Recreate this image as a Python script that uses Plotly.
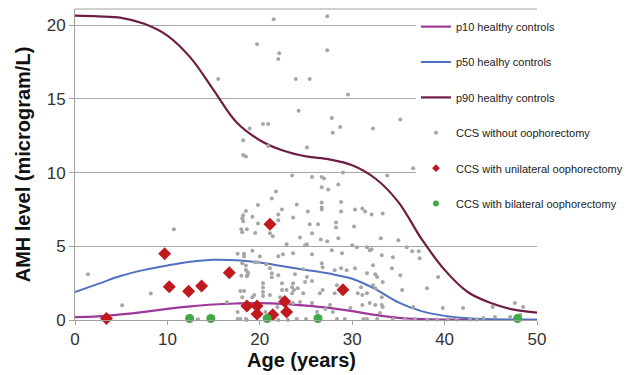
import plotly.graph_objects as go

# ---- percentile curves of healthy controls ----
curve_age = [0, 2.5, 5, 7.5, 10, 12.5, 15, 17.5, 20, 22.5, 25, 27.5, 30, 32.5, 35, 37.5, 40, 42.5, 45, 47.5, 50]
p90 = [20.65, 20.6, 20.5, 20.1, 19.3, 17.8, 15.6, 13.4, 12.2, 11.5, 11.1, 10.9, 10.5, 9.6, 8.0, 5.5, 3.4, 1.9, 1.15, 0.7, 0.5]
p50 = [1.9, 2.45, 3.0, 3.4, 3.7, 3.95, 4.08, 4.05, 3.9, 3.65, 3.4, 3.15, 2.8, 2.1, 1.2, 0.6, 0.28, 0.12, 0.05, 0.02, 0.01]
p10 = [0.2, 0.25, 0.38, 0.55, 0.75, 0.92, 1.05, 1.12, 1.15, 1.1, 0.98, 0.82, 0.6, 0.35, 0.15, 0.06, 0.03, 0.02, 0.01, 0.01, 0.01]

# ---- CCS without oophorectomy ----
none_age = [1.4, 5.1, 8.2, 10.7, 13.3,
            18.2, 18.5, 19.8, 18.5, 18.2, 19.2, 18.1, 19.8, 18.0, 18.6, 19.5, 17.6, 18.3, 19.2, 18.3, 20.0,
            18.1, 18.5, 18.5, 18.0, 18.7, 20.35, 20.35, 20.35, 17.9, 18.3, 18.1, 16.45, 18.2, 17.6, 17.9, 18.5,
            21.5, 27.3, 19.7, 22.1, 22.0, 27.3, 15.5, 23.9, 25.4, 29.55, 24.2, 27.8, 28.7, 27.9, 32.25, 35.2,
            20.35, 20.9, 18.2, 20.9, 25.1, 18.9, 36.6,
            23.5, 25.65, 26.7, 26.95, 29.0, 33.8, 28.5, 26.7, 27.4, 28.8, 26.7, 26.7, 26.7, 24.0, 25.2, 28.8,
            30.3, 31.1, 31.4, 32.1, 33.3, 23.6, 28.25, 25.4, 26.3, 28.25, 30.2, 25.65, 24.35, 26.6, 27.3, 28.5,
            33.1, 25.1,
            21.75, 21.3, 22.4, 18.2, 22.0, 22.0, 18.1, 21.1, 21.4, 22.9,
            23.6, 19.5, 19.8, 20.7, 22.0, 22.5, 18.7, 18.6, 21.1, 21.3, 22.0, 21.3, 22.4, 22.4, 22.9, 23.5,
            19.4, 19.2, 20.35, 21.1, 22.2, 23.05, 21.9, 17.6, 19.8, 20.6, 23.05, 18.6, 22.0, 23.05,
            24.9, 30.0, 27.8, 28.9, 31.9, 33.2, 25.65, 26.7, 26.8, 24.7, 28.8, 30.3, 31.6, 32.5, 23.8, 25.1,
            24.9, 25.65, 23.6, 24.1, 23.7, 23.5, 24.7, 26.5, 26.8, 28.35, 30.95, 32.25, 33.3, 28.9, 30.6, 31.6,
            23.6, 24.35, 25.65, 27.6, 27.1, 31.9, 33.2, 26.2, 27.9, 33.0, 24.0, 25.0, 28.35, 29.2, 31.2, 32.7,
            35.0, 35.9, 37.2, 36.5, 30.5, 31.6, 32.1, 34.4, 37.3, 32.25, 34.3, 35.2, 32.7, 29.4, 28.1, 39.3,
            38.1, 32.5, 35.4, 28.1, 31.1, 33.2, 31.1, 32.5, 33.3, 29.8, 36.6, 39.8, 42.0, 45.2, 47.6, 48.5,
            48.2, 47.1, 45.45, 44.2, 43.5, 42.75, 41.3, 40.3, 39.2, 38.1, 36.8, 35.7, 34.4, 31.6]
none_amh = [3.1, 1.0, 1.8, 6.15, 0.05,
            11.2, 11.1, 7.8, 7.4, 7.1, 7.0, 6.9, 6.55, 6.15, 6.15, 5.9, 4.5, 4.5, 4.7, 4.3, 4.3,
            3.85, 3.7, 3.4, 3.0, 3.1, 2.5, 2.2, 1.9, 1.96, 1.96, 1.55, 1.2, 1.0, 0.07, 0.07, 0.07,
            20.4, 20.6, 18.7, 18.1, 17.7, 18.3, 16.35, 16.35, 16.35, 15.3, 14.2, 13.7, 13.1, 12.7, 13.0, 13.6,
            13.3, 13.3, 12.2, 11.8, 11.7, 13.0, 10.3,
            9.8, 9.7, 9.7, 9.6, 10.0, 9.8, 9.2, 9.0, 8.85, 8.0, 7.97, 7.64, 7.5, 7.84, 7.36, 7.36,
            7.5, 7.57, 7.36, 7.16, 7.23, 6.96, 6.62, 6.49, 6.49, 6.28, 6.35, 5.88, 5.6, 5.47, 5.34, 5.54,
            5.54, 5.14,
            8.72, 8.24, 7.5, 6.7, 7.16, 6.76, 5.95, 5.88, 5.68, 5.14,
            4.53, 3.92, 3.92, 3.78, 4.32, 4.46, 3.24, 2.97, 3.51, 3.18, 3.04, 2.9, 2.5, 2.03, 2.03, 2.23,
            1.69, 1.55, 1.62, 1.69, 1.55, 1.15, 0.88, 0.54, 0.68, 0.54, 0.61, 0.0, 0.0, 0.0,
            5.07, 5.07, 4.73, 4.53, 4.73, 4.39, 4.46, 3.85, 3.58, 3.45, 3.51, 3.51, 3.18, 3.11, 3.11, 2.91,
            2.57, 2.64, 2.5, 2.16, 2.03, 1.82, 1.82, 1.82, 2.03, 2.36, 2.23, 2.36, 2.57, 1.82, 1.82, 1.82,
            1.15, 1.22, 1.15, 1.01, 0.74, 1.15, 1.01, 0.54, 0.54, 0.47, 0.07, 0.07, 0.07, 0.07, 0.07, 0.07,
            5.41, 4.93, 4.66, 4.66, 4.93, 4.93, 4.8, 4.26, 4.19, 3.72, 3.51, 3.04, 2.91, 3.38, 3.38, 2.91,
            2.16, 2.16, 2.03, 1.82, 1.69, 1.55, 1.01, 1.01, 0.88, 0.81, 0.88, 0.81, 0.81, 0.88, 1.15, 0.88,
            0.34, 0.2, 0.2, 0.14, 0.03, 0.03, 0.03, 0.03, 0.03, 0.03, 0.07, 0.07, 0.07, 0.07]

# ---- CCS with unilateral oophorectomy ----
uni_age = [3.4, 9.7, 10.2, 12.3, 13.7, 16.7, 18.6, 19.7, 19.7, 21.1, 21.4, 22.7, 22.9, 29.0]
uni_amh = [0.1, 4.5, 2.25, 1.95, 2.3, 3.2, 0.95, 0.95, 0.4, 6.5, 0.35, 1.25, 0.55, 2.05]

# ---- CCS with bilateral oophorectomy ----
bi_age = [12.4, 14.7, 20.8, 26.3, 47.9]
bi_amh = [0.1, 0.1, 0.1, 0.1, 0.1]

FONT = "Arial, Liberation Sans, sans-serif"
C10, C50, C90 = "#9e3899", "#4f72c0", "#6e1d45"
CGRAY, CRED, CGREEN = "#a6a6a6", "#c0191e", "#40a844"

fig = go.Figure()
fig.add_trace(go.Scatter(x=curve_age, y=p10, mode="lines", line=dict(color=C10, width=2.2, shape="spline"),
                         showlegend=False))
fig.add_trace(go.Scatter(x=curve_age, y=p50, mode="lines", line=dict(color=C50, width=2, shape="spline"),
                         showlegend=False))
fig.add_trace(go.Scatter(x=curve_age, y=p90, mode="lines", line=dict(color=C90, width=2.2, shape="spline"),
                         showlegend=False))
fig.add_trace(go.Scatter(x=none_age, y=none_amh, mode="markers", marker=dict(color=CGRAY, size=4),
                         cliponaxis=False, showlegend=False))
fig.add_trace(go.Scatter(x=uni_age, y=uni_amh, mode="markers",
                         marker=dict(color=CRED, size=10, symbol="diamond"), cliponaxis=False, showlegend=False))
fig.add_trace(go.Scatter(x=bi_age, y=bi_amh, mode="markers", marker=dict(color=CGREEN, size=9),
                         cliponaxis=False, showlegend=False))

legend_items = [
    ("p10 healthy controls", "lines", dict(color=C10, width=2.2), None),
    ("p50 healhy controls", "lines", dict(color=C50, width=2), None),
    ("p90 healthy controls", "lines", dict(color=C90, width=2.2), None),
    ("CCS without oophorectomy", "markers", None, dict(color=CGRAY, size=4)),
    ("CCS with unilateral oophorectomy", "markers", None, dict(color=CRED, size=6, symbol="diamond")),
    ("CCS with bilateral oophorectomy", "markers", None, dict(color=CGREEN, size=6)),
]
for i, (nm, md, ln, mk) in enumerate(legend_items):
    kw = dict(x=[None], y=[None], mode=md, name=nm, legendgroup=f"g{i}", showlegend=True)
    if ln:
        kw["line"] = ln
    if mk:
        kw["marker"] = mk
    fig.add_trace(go.Scatter(**kw))

fig.add_shape(type="line", xref="paper", yref="paper", x0=0, x1=1, y0=1, y1=1,
              line=dict(color="#a0a0a0", width=1))

fig.add_annotation(text="<b>Age (years)</b>", xref="paper", yref="paper", x=0.49, y=0,
                   xanchor="center", yanchor="middle", yshift=-40, showarrow=False,
                   font=dict(size=20, color="#111111", family=FONT))

fig.update_layout(
    width=633, height=367,
    margin=dict(l=67, r=104, t=1, b=55, autoexpand=False),
    plot_bgcolor="white", paper_bgcolor="white",
    font=dict(family=FONT, color="#222222"),
    showlegend=True,
    legend=dict(x=0.738, y=0.99, xanchor="left", yanchor="top", bgcolor="white",
                font=dict(size=11, family=FONT, color="#222222"), tracegroupgap=16.4,
                itemsizing="trace"),
    xaxis=dict(range=[0, 50], tickvals=[0, 10, 20, 30, 40, 50], showgrid=False, zeroline=False,
               showline=True, linecolor="#a0a0a0", linewidth=1, ticks="outside", ticklen=4,
               tickcolor="#a0a0a0", tickfont=dict(size=17, color="#333333"), automargin=False),
    yaxis=dict(range=[0, 21.1], tickvals=[0, 5, 10, 15, 20], showgrid=True, gridcolor="#a8a8a8",
               gridwidth=1, zeroline=False, showline=True, linecolor="#a0a0a0", linewidth=1,
               ticks="outside", ticklen=5, tickcolor="#a0a0a0", tickfont=dict(size=17, color="#333333"),
               automargin=False,
               title=dict(text="<b>AMH level (microgram/L)</b>", font=dict(size=20, color="#111111"), standoff=10)),
)

fig.write_html("out.html")
